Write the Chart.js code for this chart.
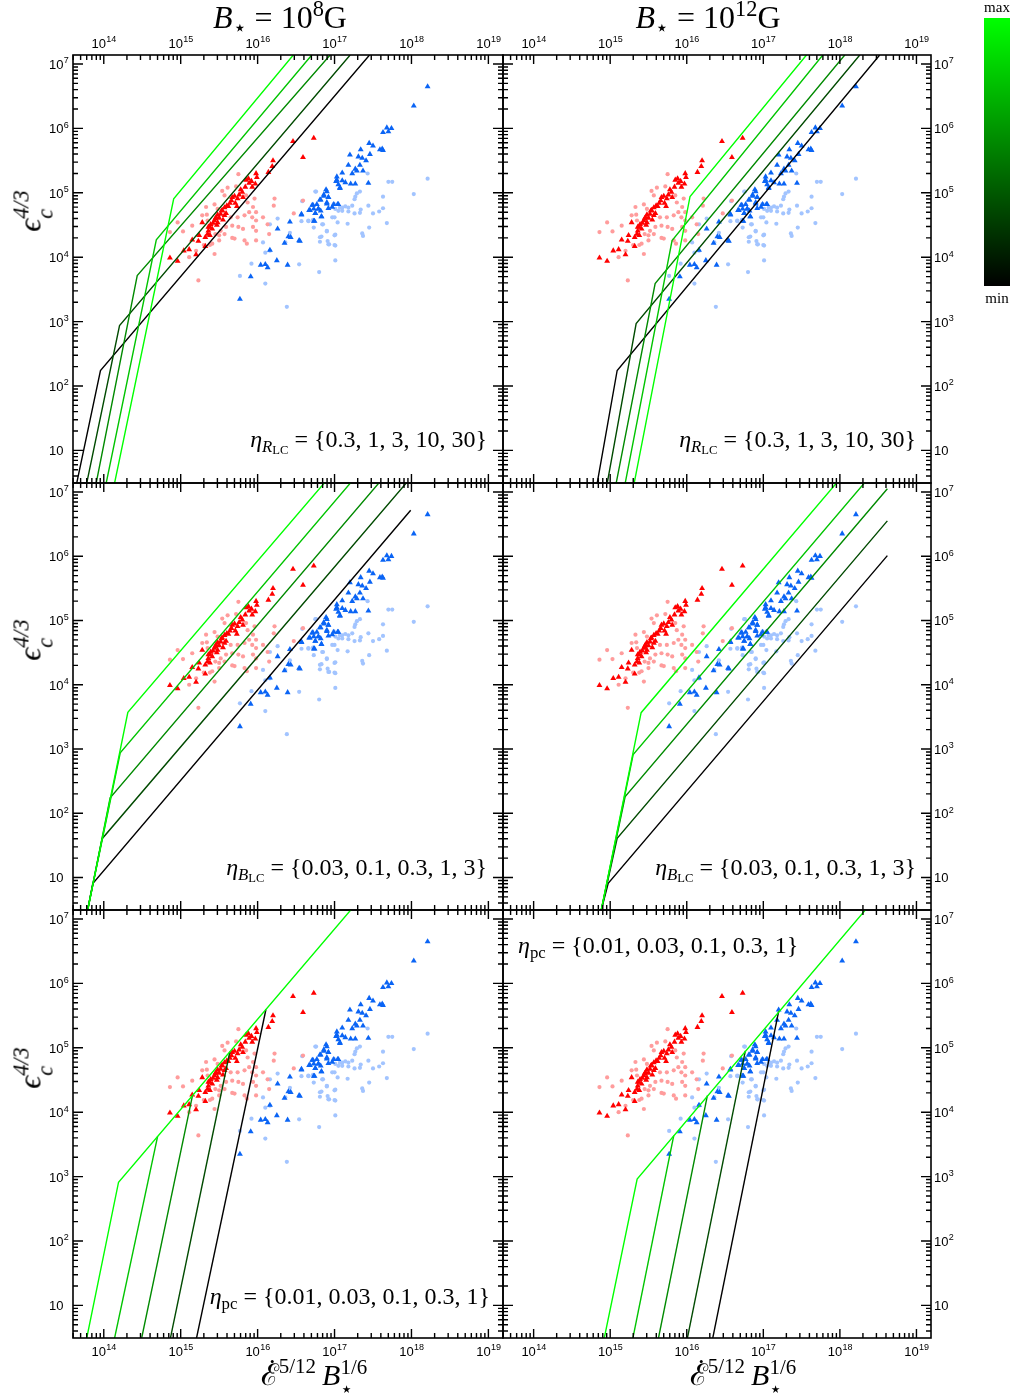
<!DOCTYPE html>
<html>
<head>
<meta charset="utf-8">
<script src="https://cdn.jsdelivr.net/npm/chart.js@4.4.0/dist/chart.umd.min.js"></script>
<style>
  body { margin: 0; background: #fff; width: 1018px; height: 1400px; position: relative; overflow: hidden; }
  canvas { position: absolute; }
  .t { position: absolute; white-space: nowrap; color: #000; font-family: "Liberation Serif", "DejaVu Serif", serif; line-height: 1; }
  .t sub { font-size: 70%; vertical-align: -0.3em; line-height: 0; }
  .t sup { font-size: 70%; vertical-align: 0.55em; line-height: 0; }
  .t sub sub { font-size: 75%; vertical-align: -0.15em; }
  .st { display: inline-block; vertical-align: middle; font-size: 70%; line-height: 1.05; text-align: left; }
  .st span { display: block; }
  .cal { position: relative; display: inline-block; }
  .cal .dot { position: absolute; left: 55%; top: 0px; width: 3px; height: 3px; border-radius: 50%; background: #000; }
  .ann { font-size: 24px; }
  .ttl { font-size: 32px; }
  .lab { font-size: 30px; }
  .ylab { font-size: 32px; }
</style>
</head>
<body>
<canvas id="c0" width="507" height="487" style="left:0;top:0"></canvas>
<canvas id="c1" width="481" height="487" style="left:499px;top:0"></canvas>
<canvas id="c2" width="507" height="444" style="left:0;top:470px"></canvas>
<canvas id="c3" width="481" height="444" style="left:499px;top:470px"></canvas>
<canvas id="c4" width="507" height="503" style="left:0;top:897px"></canvas>
<canvas id="c5" width="481" height="503" style="left:499px;top:897px"></canvas>

<div class="t ttl" style="left:280px;top:1px;transform:translateX(-50%)"><i>B</i><sub>⋆</sub> = 10<sup>8</sup>G</div>
<div class="t ttl" style="left:708px;top:1px;transform:translateX(-50%)"><i>B</i><sub>⋆</sub> = 10<sup>12</sup>G</div>

<div class="t ylab" style="left:33px;top:211px;transform:translate(-50%,-50%) rotate(-90deg)"><i>ϵ</i><span class="st"><span><i>4/3</i></span><span><i>c</i></span></span></div>
<div class="t ylab" style="left:33px;top:640px;transform:translate(-50%,-50%) rotate(-90deg)"><i>ϵ</i><span class="st"><span><i>4/3</i></span><span><i>c</i></span></span></div>
<div class="t ylab" style="left:33px;top:1068px;transform:translate(-50%,-50%) rotate(-90deg)"><i>ϵ</i><span class="st"><span><i>4/3</i></span><span><i>c</i></span></span></div>

<div class="t lab" style="left:314px;top:1378px;transform:translate(-50%,-50%)"><span class="cal">ℰ<span class="dot"></span></span><sup>5/12</sup>&#8201;<i>B</i><span class="st"><span>1/6</span><span>⋆</span></span></div>
<div class="t lab" style="left:743px;top:1378px;transform:translate(-50%,-50%)"><span class="cal">ℰ<span class="dot"></span></span><sup>5/12</sup>&#8201;<i>B</i><span class="st"><span>1/6</span><span>⋆</span></span></div>

<div class="t ann" style="right:531px;top:427px"><i>η</i><sub><i>R</i><sub>LC</sub></sub> = {0.3, 1, 3, 10, 30}</div>
<div class="t ann" style="right:102px;top:427px"><i>η</i><sub><i>R</i><sub>LC</sub></sub> = {0.3, 1, 3, 10, 30}</div>
<div class="t ann" style="right:531px;top:855px"><i>η</i><sub><i>B</i><sub>LC</sub></sub> = {0.03, 0.1, 0.3, 1, 3}</div>
<div class="t ann" style="right:102px;top:855px"><i>η</i><sub><i>B</i><sub>LC</sub></sub> = {0.03, 0.1, 0.3, 1, 3}</div>
<div class="t ann" style="right:528px;top:1284px"><i>η</i><sub>pc</sub> = {0.01, 0.03, 0.1, 0.3, 1}</div>
<div class="t ann" style="left:518px;top:933px"><i>η</i><sub>pc</sub> = {0.01, 0.03, 0.1, 0.3, 1}</div>

<div style="position:absolute;left:984px;top:18px;width:26px;height:268px;background:linear-gradient(#00ff00,#000)"></div>
<div class="t" style="left:997px;top:0px;font-size:15px;transform:translateX(-50%)">max</div>
<div class="t" style="left:997px;top:291px;font-size:15px;transform:translateX(-50%)">min</div>

<script>
// all values are log10 of the plotted quantity: [log10 x, log10 y]
const redTri = [
  [16.20,5.50],[16.19,5.41],[15.98,5.30],[15.99,5.24],[15.97,5.14],[15.85,5.20],[15.89,5.15],[15.93,5.09],
  [15.84,5.09],[15.80,5.01],[15.76,4.97],[15.81,4.93],[15.74,4.91],[15.67,4.93],[15.71,4.84],[15.64,4.84],
  [15.62,4.79],[15.73,4.79],[15.57,4.77],[15.54,4.73],[15.59,4.68],[15.52,4.67],[15.48,4.66],[15.50,4.61],
  [15.46,4.62],[15.44,4.57],[15.42,4.53],[15.48,4.54],[15.39,4.51],[15.38,4.47],[15.41,4.44],[15.36,4.41],
  [15.35,4.36],[15.38,4.34],[15.32,4.31],[15.28,4.54],[15.24,4.34],[15.23,4.25],[15.15,4.27],[15.32,4.17],
  [15.11,4.12],[15.04,4.10],[15.20,4.04],[14.96,3.94],[14.86,3.99],[15.57,4.65],[16.46,5.80],[16.73,5.85],
  [16.59,5.55],[16.14,5.32],[15.45,4.60],[15.53,4.72],[15.60,4.80],[15.66,4.88],[15.36,4.47],[15.47,4.50],
  [15.55,4.58],[15.70,4.95],[15.78,5.05],[15.88,5.22],[15.92,5.18]
];
const pinkDot = [
  [16.22,4.91],[15.61,5.08],[15.75,5.29],[15.54,5.03],[15.96,4.91],[15.87,4.85],[15.94,4.78],[15.89,4.70],
  [15.98,4.70],[15.83,4.65],[15.74,4.62],[15.93,4.62],[15.98,4.57],[15.67,4.49],[15.75,4.47],[15.81,4.44],
  [15.94,4.47],[15.98,4.41],[15.59,4.47],[15.52,4.41],[15.50,4.34],[15.45,4.36],[15.37,4.35],[15.15,4.49],
  [15.33,4.78],[15.28,4.65],[15.35,4.57],[15.48,4.75],[15.44,4.82],[15.70,4.29],[15.83,4.26],[15.86,4.21],
  [15.67,4.30],[15.50,4.26],[15.38,4.19],[15.30,4.19],[15.44,4.05],[15.20,4.10],[15.11,4.00],[14.96,4.54],
  [14.86,4.39],[15.03,4.40],[15.23,3.64],[15.57,4.96],[15.72,5.10],[15.85,4.96],[15.65,4.62],[15.57,4.36],
  [15.41,4.21],[15.98,4.26],[16.15,4.36],[16.07,4.62],[15.34,4.66],[16.59,4.88],[16.47,4.68],[16.13,4.51],
  [16.21,4.80]
];
const blueTri = [
  [15.77,3.35],[15.91,3.70],[16.04,3.88],[16.10,3.89],[16.13,3.84],[16.16,4.11],[16.25,3.95],[16.39,3.88],
  [16.35,4.22],[16.40,4.32],[16.43,4.31],[16.26,4.44],[16.42,4.55],[16.54,4.26],[16.57,4.66],[16.68,4.73],
  [16.71,4.81],[16.75,4.68],[16.74,4.56],[16.79,4.75],[16.81,4.89],[16.86,4.95],[16.90,5.02],[16.92,4.93],
  [16.83,4.63],[16.90,4.83],[16.99,4.82],[17.05,4.82],[17.03,5.20],[17.07,5.08],
  [18.21,6.65],[18.03,6.35],[17.68,6.01],[17.74,6.00],[17.63,5.94],[17.70,5.95],[17.45,5.77],[17.50,5.73],
  [17.59,5.67],[17.63,5.66],[17.34,5.67],[17.20,5.59],[17.31,5.56],[17.36,5.54],[17.46,5.60],[17.41,5.50],
  [17.33,5.43],[17.27,5.37],[17.29,5.34],[17.37,5.34],[17.18,5.43],[17.23,5.30],[17.10,5.31],[17.14,5.16],
  [17.21,5.14],[17.27,5.14],[17.44,5.15],[17.03,5.25],[17.02,5.18],[17.05,5.13],[17.07,5.07],[17.10,5.19],
  [16.89,5.05],[16.86,4.97],[16.92,4.93],[16.82,4.89],[16.77,4.82],[16.90,4.85],[16.97,4.78],[17.04,4.82],
  [16.92,4.76],[16.72,4.81],[16.67,4.73],[16.73,4.75],[16.79,4.75],[16.82,4.72],[16.75,4.68],[16.73,4.56],
  [16.83,4.63],[16.57,4.67],[16.55,4.25],[17.62,5.68]
];
const lightBlueDot = [
  [16.76,5.02],[16.58,4.87],[16.26,4.60],[16.57,4.56],[16.66,4.56],[16.84,4.51],[16.16,4.51],[16.97,4.62],
  [17.01,4.75],[17.10,4.77],[16.90,4.41],[17.01,4.35],[16.83,4.32],[16.81,4.24],[16.92,4.20],[17.00,4.19],
  [16.42,4.38],[16.36,4.23],[16.07,4.23],[16.10,4.07],[16.16,4.10],[16.54,3.89],[15.92,3.90],[17.01,3.95],
  [16.80,3.77],[16.10,3.59],[16.38,3.23],[15.77,3.71],
  [18.21,5.22],[17.70,5.17],[17.75,5.17],[18.03,4.98],[17.43,5.30],[17.33,5.02],[17.29,4.99],[17.26,4.90],
  [17.63,4.94],[17.63,4.76],[17.58,4.71],[17.44,4.80],[17.34,4.74],[17.33,4.69],[17.26,4.68],[17.23,4.80],
  [17.18,4.77],[17.14,4.79],[17.07,4.77],[17.05,4.72],[17.10,4.72],[17.18,4.71],[17.50,4.68],[17.00,4.62],
  [17.04,4.54],[17.17,4.52],[17.68,4.53],[17.45,4.46],[17.36,4.37],[17.37,4.33],[17.27,4.94],[17.00,4.34],
  [16.90,4.40],[16.85,4.51],[16.81,4.31],[16.91,4.25],[17.01,4.18],[16.93,4.20],[16.73,4.46],[16.72,4.58],
  [16.66,4.57],[16.75,5.02],[16.99,4.83]
];

// model curves, ordered from min (black) to max (green) of eta
const rlcB8 = [
  [[13.648,0.49],[13.957,2.241],[17.455,7.14]],
  [[13.778,0.49],[14.205,2.939],[17.203,7.14]],
  [[13.901,0.49],[14.435,3.716],[16.943,7.14]],
  [[14.031,0.49],[14.683,4.270],[16.704,7.14]],
  [[14.140,0.49],[14.909,4.907],[16.464,7.14]]
];
const rlcB12 = [
  [[14.830,0.49],[15.091,2.241],[18.520,7.14]],
  [[14.961,0.49],[15.339,2.970],[18.260,7.14]],
  [[15.078,0.49],[15.587,3.591],[18.064,7.14]],
  [[15.196,0.49],[15.808,4.259],[17.777,7.14]],
  [[15.313,0.49],[16.043,4.943],[17.564,7.14]]
];
const blcB8 = [
  [[13.79,0.49],[13.857,0.905],[17.99,6.716]],
  [[13.79,0.49],[13.979,1.604],[17.99,7.22]],
  [[13.79,0.49],[14.083,2.241],[17.99,7.72]],
  [[13.79,0.49],[14.214,2.939],[17.99,8.24]],
  [[13.79,0.49],[14.313,3.570],[17.99,8.71]]
];
const blcB12 = [
  [[14.883,0.49],[14.974,0.910],[18.62,6.01]],
  [[14.883,0.49],[15.091,1.609],[18.62,6.55]],
  [[14.883,0.49],[15.196,2.261],[18.62,7.05]],
  [[14.883,0.49],[15.300,2.913],[18.62,7.56]],
  [[14.883,0.49],[15.404,3.565],[18.62,8.07]]
];
const pcB8 = [
  [[15.205,0.49],[16.108,5.595]],
  [[14.866,0.49],[15.639,4.939]],
  [[14.492,0.49],[15.153,4.258]],
  [[14.140,0.49],[14.700,3.624]],
  [[13.778,0.49],[14.192,2.913],[17.30,7.265]]
];
const pcB12 = [
  [[16.339,0.49],[17.20,5.566]],
  [[16.008,0.49],[16.765,4.953]],
  [[15.630,0.49],[16.269,4.256]],
  [[15.296,0.49],[15.830,3.637]],
  [[14.922,0.49],[15.352,2.961],[18.40,7.235]]
];
const lineColors = ['#000000', '#004a00', '#008a00', '#00c400', '#00ff00'];

const xLogRange = [13.6, 19.19];
const yLogRange = [0.494, 7.14];
const xDecades = [13, 14, 15, 16, 17, 18, 19];
const yDecades = [0, 1, 2, 3, 4, 5, 6, 7];
const mults = [1, 2, 3, 4, 5, 6, 7, 8, 9];

function tickList(decades, range) {
  const out = [];
  decades.forEach(d => mults.forEach(m => {
    const lv = d + Math.log10(m);
    if (lv >= range[0] - 1e-9 && lv <= range[1] + 1e-9) out.push({ value: m * Math.pow(10, d), major: m === 1, dec: d });
  }));
  return out;
}
const xTicks = tickList(xDecades, xLogRange);
const yTicks = tickList(yDecades, yLogRange);

const toPts = arr => arr.map(p => ({ x: Math.pow(10, p[0]), y: Math.pow(10, p[1]) }));

const BIG = '13px "Liberation Sans", Arial, sans-serif';
const SMALL = '9px "Liberation Sans", Arial, sans-serif';

// draws "10" with the exponent raised; mode: 'center' | 'right' (mantissa right edge) | 'left'
function drawPow(ctx, n, x, base, mode) {
  ctx.font = BIG;
  const mw = ctx.measureText('10').width;
  const ex = n === 1 ? '' : String(n);
  ctx.font = SMALL;
  const ew = ex ? ctx.measureText(ex).width : 0;
  let x0 = x;
  if (mode === 'center') x0 = x - (mw + ew) / 2;
  else if (mode === 'right') x0 = x - mw;
  ctx.textAlign = 'left';
  ctx.textBaseline = 'alphabetic';
  ctx.font = BIG;
  ctx.fillText('10', x0, base);
  if (ex) {
    ctx.font = SMALL;
    ctx.fillText(ex, x0 + mw + 0.3, base - 5.6);
  }
}

const frameTicks = {
  id: 'frameTicks',
  afterDatasetsDraw(chart, args, opts) {
    const { ctx, chartArea: a } = chart;
    const xs = chart.scales.x, ys = chart.scales.y;
    ctx.save();
    ctx.strokeStyle = '#000';
    ctx.lineWidth = 1.4;
    ctx.beginPath();
    xTicks.forEach(t => {
      const p = xs.getPixelForValue(t.value);
      const len = t.major ? 9 : 5;
      ctx.moveTo(p, a.top); ctx.lineTo(p, a.top + len);
      ctx.moveTo(p, a.bottom); ctx.lineTo(p, a.bottom - len);
    });
    yTicks.forEach(t => {
      const p = ys.getPixelForValue(t.value);
      const len = t.major ? 10 : 5;
      ctx.moveTo(a.left, p); ctx.lineTo(a.left + len, p);
      ctx.moveTo(a.right, p); ctx.lineTo(a.right - len, p);
    });
    ctx.stroke();
    ctx.lineWidth = 1.6;
    ctx.strokeRect(a.left, a.top, a.right - a.left, a.bottom - a.top);

    // tick labels
    ctx.fillStyle = '#000';
    xTicks.filter(t => t.major).forEach(t => {
      const p = xs.getPixelForValue(t.value);
      if (opts.xPos === 'top') drawPow(ctx, t.dec, p, a.top - 7, 'center');
      else if (opts.xPos === 'bottom') drawPow(ctx, t.dec, p, a.bottom + 18, 'center');
    });
    yTicks.filter(t => t.major).forEach(t => {
      const p = ys.getPixelForValue(t.value);
      if (opts.yPos === 'left') drawPow(ctx, t.dec, a.left - 9.5, p + 5, 'right');
      else drawPow(ctx, t.dec, a.right + 3, p + 5, 'left');
    });
    ctx.restore();
  }
};

function makePanel(id, lines, col, row) {
  const datasets = [];
  for (let i = lines.length - 1; i >= 0; i--) {
    datasets.push({ data: toPts(lines[i]), showLine: true, borderColor: lineColors[i], borderWidth: 1.4,
      pointRadius: 0, fill: false, tension: 0 });
  }
  datasets.push({ data: toPts(redTri), pointStyle: 'triangle', pointRadius: 3.4, pointBackgroundColor: '#ff0000', pointBorderWidth: 0 });
  datasets.push({ data: toPts(blueTri), pointStyle: 'triangle', pointRadius: 3.4, pointBackgroundColor: '#0a64f5', pointBorderWidth: 0 });
  datasets.push({ data: toPts(pinkDot), pointStyle: 'circle', pointRadius: 2.1, pointBackgroundColor: '#ff9c9c', pointBorderWidth: 0 });
  datasets.push({ data: toPts(lightBlueDot), pointStyle: 'circle', pointRadius: 2.1, pointBackgroundColor: '#a2c4ff', pointBorderWidth: 0 });

  new Chart(document.getElementById(id), {
    type: 'scatter',
    data: { datasets },
    options: {
      responsive: false,
      animation: false,
      events: [],
      layout: { padding: { left: col.padL, right: col.padR, top: row.padT, bottom: row.padB } },
      plugins: {
        legend: { display: false },
        tooltip: { enabled: false },
        frameTicks: { xPos: row.xPos, yPos: col.yPos }
      },
      scales: {
        x: {
          type: 'logarithmic',
          display: false,
          min: Math.pow(10, xLogRange[0]),
          max: Math.pow(10, xLogRange[1])
        },
        y: {
          type: 'logarithmic',
          display: false,
          min: Math.pow(10, yLogRange[0]),
          max: Math.pow(10, yLogRange[1])
        }
      }
    },
    plugins: [frameTicks]
  });
}

// padding places each plot area on the page grid
const leftCol = { padL: 73, padR: 4, yPos: 'left' };
const rightCol = { padL: 4, padR: 49, yPos: 'right' };
const topRow = { padT: 55, padB: 4, xPos: 'top' };
const midRow = { padT: 13, padB: 4 };
const botRow = { padT: 13, padB: 62, xPos: 'bottom' };

makePanel('c0', rlcB8, leftCol, topRow);
makePanel('c1', rlcB12, rightCol, topRow);
makePanel('c2', blcB8, leftCol, midRow);
makePanel('c3', blcB12, rightCol, midRow);
makePanel('c4', pcB8, leftCol, botRow);
makePanel('c5', pcB12, rightCol, botRow);
</script>
</body>
</html>
